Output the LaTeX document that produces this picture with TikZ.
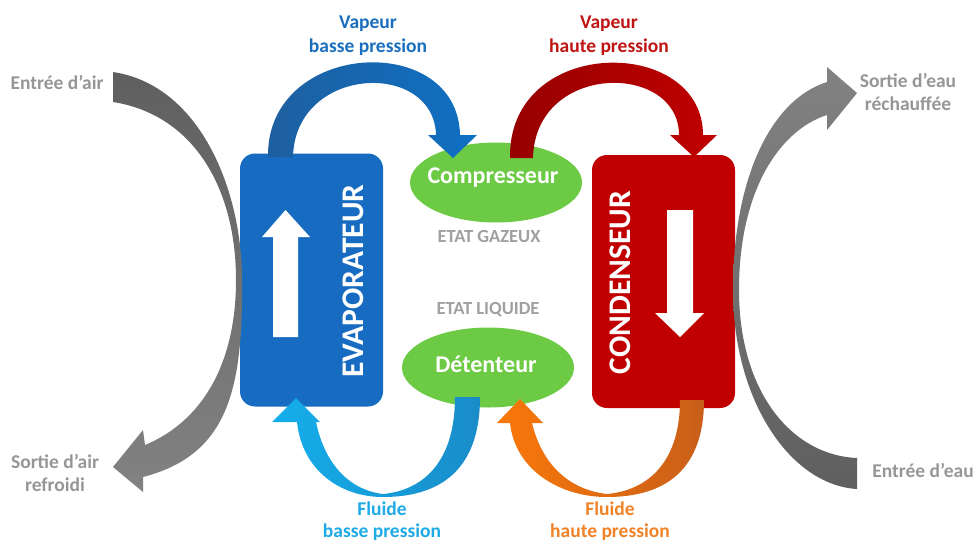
\documentclass[tikz,border=0pt]{standalone}
\usepackage{fontspec}
\setmainfont{Carlito}
\usepackage{tikz}
\usetikzlibrary{shapes.geometric}
\definecolor{evapblue}{RGB}{23,108,193}
\definecolor{condred}{RGB}{192,0,0}
\definecolor{unitgreen}{RGB}{108,202,68}
\definecolor{vapdark}{RGB}{30,95,160}
\definecolor{vaplight}{RGB}{15,112,195}
\definecolor{hpdark}{RGB}{150,0,0}
\definecolor{fluidlight}{RGB}{20,175,235}
\definecolor{fluiddark}{RGB}{25,140,200}
\definecolor{orangelight}{RGB}{250,120,10}
\definecolor{orangedark}{RGB}{200,95,25}
\definecolor{graydark}{RGB}{95,95,95}
\definecolor{graylight}{RGB}{130,130,130}
\definecolor{vaptext}{RGB}{25,110,190}
\definecolor{hptext}{RGB}{192,20,20}
\definecolor{fluidtext}{RGB}{30,170,230}
\definecolor{orangetext}{RGB}{240,130,40}
\definecolor{sidegray}{RGB}{150,150,150}
\definecolor{stategray}{RGB}{160,160,160}
\tikzstyle{exchanger}=[rectangle,rounded corners=15pt,minimum width=143pt,
minimum height=253pt,draw=none]
\tikzstyle{unit}=[ellipse,minimum width=172pt,minimum height=80pt,inner sep=0pt,fill=unitgreen]
\tikzstyle{unittext}=[anchor=base,text=white,font=\bfseries\fontsize{24}{24}\selectfont]
\tikzstyle{bigtext}=[rotate=90,anchor=base,inner sep=0pt,text=white,
font=\bfseries\fontsize{31.5}{31.5}\selectfont]
\tikzstyle{state}=[anchor=base,text=stategray,font=\bfseries\fontsize{18.5}{18.5}\selectfont]
\tikzstyle{flow}=[align=center,anchor=north,inner sep=0pt,font=\bfseries\fontsize{19.5}{23.5}\selectfont]
\tikzstyle{lowflow}=[flow,font=\bfseries\fontsize{19.5}{22}\selectfont]
\tikzstyle{side}=[flow,text=sidegray]

\begin{document}
\begin{tikzpicture}[x=1pt,y=-1pt]
    \useasboundingbox (0,0) rectangle (976,544);

    \node (evap) [exchanger,fill=evapblue] at (311.5,280) {};
    \node (cond) [exchanger,fill=condred] at (663.5,281.5) {};
    \node (comp) [unit] at (496,182.5) {};
    \node (det) [unit] at (488,367.5) {};

    % white arrows inside the exchangers
    \fill[white] (273,337) -- (273,237) -- (262,237) -- (285.5,210) -- (310,237)
        -- (298,237) -- (298,337) -- cycle;
    \fill[white] (667,210) -- (667,313) -- (655,313) -- (680,337) -- (704,313)
        -- (693,313) -- (693,210) -- cycle;

    \node (evaptxt) [bigtext] at (363,281) {EVAPORATEUR};
    \node (condtxt) [bigtext] at (630,282.5) {CONDENSEUR};
    \node (comptxt) [unittext] at (493,183) {Compresseur};
    \node (dettxt) [unittext] at (486,372) {Détenteur};
    \node (gaz) [state] at (489,242) {ETAT GAZEUX};
    \node (liq) [state] at (488,314) {ETAT LIQUIDE};

    \node (vapbp) [flow,text=vaptext] at (368,16) {Vapeur\\basse pression};
    \node (vaphp) [flow,text=hptext] at (609,16) {Vapeur\\haute pression};
    \node (flbp) [lowflow,text=fluidtext] at (382,502) {Fluide\\basse pression};
    \node (flhp) [lowflow,text=orangetext] at (610,502) {Fluide\\haute pression};
    \node (airin) [side,anchor=base] at (57,89) {Entrée d’air};
    \node (airout) [side] at (55,454) {Sortie d’air\\refroidi};
    \node (eauout) [side] at (908,73) {Sortie d’eau\\réchauffée};
    \node (eauin) [side,anchor=base] at (923,477) {Entrée d’eau};

    % air and water streams
    \shade[top color=graydark,bottom color=graylight]
        (113,72) .. controls (200,85) and (242,190) .. (242,280)
        .. controls (243,390) and (228,455) .. (143,477)
        -- (143,492) -- (113,467) -- (143,430) -- (145,445)
        .. controls (205,420) and (236,360) .. (236,280)
        .. controls (236,190) and (195,115) .. (113,102) -- cycle;
    \shade[top color=graylight,bottom color=graydark]
        (857,489) .. controls (790,485) and (733,400) .. (733,290)
        .. controls (733,180) and (770,100) .. (827,82)
        -- (827,67) -- (857,93) -- (827,130) -- (827,115)
        .. controls (780,130) and (739,190) .. (739,290)
        .. controls (739,390) and (790,455) .. (857,458) -- cycle;

    % refrigerant loop
    \shade[left color=vapdark,right color=vaplight]
        (268,157) .. controls (266,40) and (458,30) .. (460,135)
        -- (477,135) -- (453,158) -- (428,135) -- (436,135)
        .. controls (434,60) and (295,65) .. (293,157) -- cycle;
    \shade[left color=hpdark,right color=condred]
        (510,158) .. controls (508,35) and (703,35) .. (703,135)
        -- (717,135) -- (694,157) -- (670,135) -- (679,135)
        .. controls (679,62) and (535,62) .. (533,158) -- cycle;
    \shade[left color=fluidlight,right color=fluiddark]
        (296,398) -- (320,422) -- (316,422)
        .. controls (325,465) and (350,490) .. (383,494)
        .. controls (425,490) and (455,460) .. (455,397)
        -- (480,397)
        .. controls (480,470) and (440,497) .. (383,497)
        .. controls (340,497) and (302,470) .. (297,422)
        -- (272,422) -- cycle;
    \shade[left color=orangelight,right color=orangedark]
        (520,399) -- (543,423) -- (532,423)
        .. controls (542,465) and (570,490) .. (607,494)
        .. controls (650,490) and (680,460) .. (680,400)
        -- (704,400)
        .. controls (704,470) and (665,497) .. (607,497)
        .. controls (560,497) and (515,470) .. (510,423)
        -- (497,423) -- cycle;

\end{tikzpicture}
\end{document}
